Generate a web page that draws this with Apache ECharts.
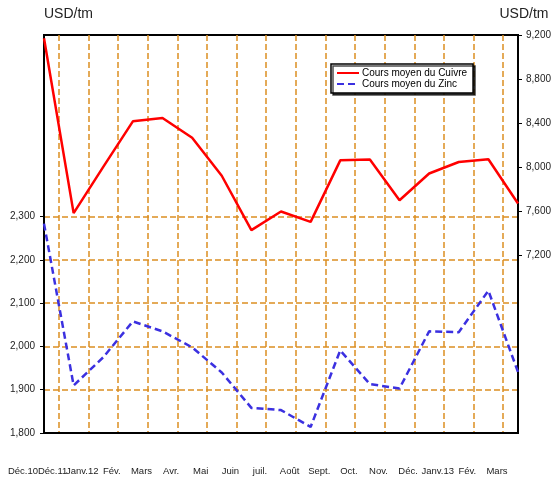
<!DOCTYPE html>
<html>
<head>
<meta charset="utf-8">
<script src="https://cdn.jsdelivr.net/npm/echarts@6/dist/echarts.min.js"></script>
<style>
  html, body { margin: 0; padding: 0; background: #fff; }
  #chart { width: 557px; height: 483px; }
</style>
</head>
<body>
<div id="chart"></div>
<script>
// Categories (months)
const categories = ['Déc.10', 'Déc.11', 'Janv.12', 'Fév.', 'Mars', 'Avr.', 'Mai', 'Juin', 'juil.', 'Août', 'Sept.', 'Oct.', 'Nov.', 'Déc.', 'Janv.13', 'Fév.', 'Mars']

// Copper average price (right axis, USD/tm)
const cuivre = [9170, 7580, 8000, 8415, 8445, 8265, 7920, 7425, 7595, 7500, 8060, 8068, 7697, 7940, 8045, 8070, 7667]

// Zinc average price (left axis, USD/tm)
const zinc = [2284, 1910, 1975, 2058, 2035, 1998, 1940, 1858, 1853, 1814, 1991, 1913, 1903, 2035, 2033, 2129, 1941]

// Tick labels
const leftTicks = [1800, 1900, 2000, 2100, 2200, 2300]
const rightTicks = [7200, 7600, 8000, 8400, 8800, 9200]

const orange = '#dc8e22'
const fontFamily = '"Liberation Sans", Arial, sans-serif'

const chart = echarts.init(document.getElementById('chart'))

const fmt = v => Number(v).toLocaleString('en-US')

const option = {
  animation: false,
  grid: {
    left: 44,
    right: 39,
    top: 35,
    bottom: 50,
    show: true,
    borderColor: '#000',
    borderWidth: 2
  },
  legend: {
    left: 331,
    top: 64,
    orient: 'vertical',
    itemGap: 1,
    itemWidth: 22,
    itemHeight: 10,
    padding: [4, 6, 4, 5],
    backgroundColor: '#fff',
    borderColor: '#000',
    borderWidth: 1.5,
    shadowColor: 'rgba(0,0,0,0.7)',
    shadowOffsetX: 2,
    shadowOffsetY: 2,
    itemStyle: { opacity: 0 },
    textStyle: { fontSize: 10, color: '#000', fontFamily, padding: [0, 0, 0, -2] },
    data: ['Cours moyen du Cuivre', 'Cours moyen du Zinc']
  },
  xAxis: [
    {
      // value axis: data positions + vertical dashed lines between months
      type: 'value',
      min: 0,
      max: categories.length - 1,
      axisLine: { show: true, onZero: false, lineStyle: { color: '#000', width: 2 } },
      axisTick: {
        show: false,
        customValues: categories.slice(1).map((_, i) => i + 0.5)
      },
      splitLine: {
        show: true,
        lineStyle: { color: orange, width: 1.5, type: [6, 3] }
      },
      axisLabel: { show: false }
    },
    {
      // category axis: month labels only
      type: 'category',
      position: 'bottom',
      boundaryGap: false,
      data: categories,
      axisLine: { show: false },
      axisTick: { show: false },
      splitLine: { show: false },
      axisLabel: {
        interval: 0,
        fontSize: 9.5,
        color: '#222',
        fontFamily,
        margin: 33,
        padding: [0, 42, 0, 0]
      }
    }
  ],
  yAxis: [
    {
      type: 'value',
      position: 'left',
      min: 1800,
      max: 2720,
      interval: 100,
      name: 'USD/tm',
      nameLocation: 'end',
      nameGap: 14,
      nameTextStyle: { fontSize: 14, color: '#222', fontFamily, align: 'left' },
      axisLine: { show: true, lineStyle: { color: '#000', width: 2 } },
      axisTick: { show: true, length: 4, customValues: leftTicks, lineStyle: { color: '#000', width: 1 } },
      axisLabel: { customValues: leftTicks, formatter: fmt, fontSize: 10, color: '#222', fontFamily, margin: 9 },
      splitLine: {
        show: true,
        lineStyle: { color: orange, width: 1.5, type: [6, 3] }
      }
    },
    {
      type: 'value',
      position: 'right',
      min: 5580,
      max: 9200,
      name: 'USD/tm',
      nameLocation: 'end',
      nameGap: 14,
      nameTextStyle: { fontSize: 14, color: '#222', fontFamily, align: 'center', padding: [0, 0, 0, 12] },
      axisLine: { show: true, lineStyle: { color: '#000', width: 2 } },
      axisTick: { show: true, length: 4, customValues: rightTicks, lineStyle: { color: '#000', width: 1 } },
      axisLabel: { customValues: rightTicks, formatter: fmt, fontSize: 10, color: '#222', fontFamily, margin: 8 },
      splitLine: { show: false }
    }
  ],
  series: [
    {
      name: 'Cours moyen du Cuivre',
      type: 'line',
      xAxisIndex: 0,
      yAxisIndex: 1,
      data: cuivre.map((v, i) => [i, v]),
      symbol: 'none',
      lineStyle: { color: '#ff0000', width: 2.5 },
      itemStyle: { color: '#ff0000' },
      z: 3
    },
    {
      name: 'Cours moyen du Zinc',
      type: 'line',
      xAxisIndex: 0,
      yAxisIndex: 0,
      data: zinc.map((v, i) => [i, v]),
      symbol: 'none',
      lineStyle: { color: '#3b30e0', width: 2.5, type: [7, 4] },
      itemStyle: { color: '#3b30e0' },
      z: 3
    }
  ]
}

chart.setOption(option)
</script>
</body>
</html>
